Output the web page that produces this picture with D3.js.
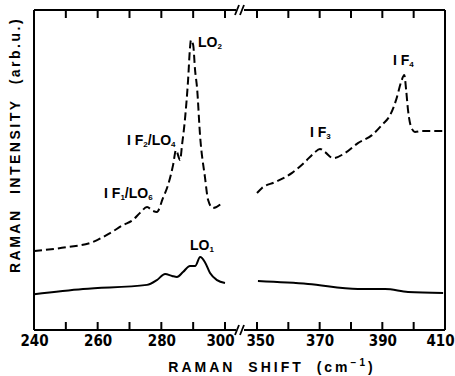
<!DOCTYPE html>
<html>
<head>
<meta charset="utf-8">
<script src="https://cdn.jsdelivr.net/npm/d3@7"></script>
<style>
  body { margin: 0; background: #fff; }
  svg { display: block; }
  .tick text { font-family: "DejaVu Sans Condensed", "DejaVu Sans", sans-serif; font-weight: bold; font-size: 15px; }
  .lbl { font-family: "Liberation Sans", Arial, sans-serif; font-weight: bold; font-size: 14px; }
</style>
</head>
<body>
<div id="chart"></div>
<script>
const WIDTH = 455;
const HEIGHT = 376;

// raman shift ticks, both sides of the axis break
const leftTicks = [240, 250, 260, 270, 280, 290, 300];
const leftLabels = [240, 260, 280, 300];
const rightTicks = [350, 360, 370, 380, 390, 400, 410];
const rightLabels = [350, 370, 390, 410];

// dashed spectrum, 240-300 cm-1
const dashedLeftShift = [240, 250.4, 258.5, 263.9, 268.0, 271.1, 273.3, 275.5, 277.4, 278.6, 280.5, 282.1, 283.7,
  284.6, 285.9, 286.5, 287.4, 288.4, 289.0, 289.3, 290.0, 290.6, 291.2, 292.2, 293.7, 294.7, 296.2, 299.4];
const dashedLeftIntensity = [24.7, 25.9, 27.5, 30.3, 32.8, 34.4, 36.6, 38.4, 37.2, 36.9, 41.2, 45.3, 51.6,
  56.2, 53.1, 57.8, 65.6, 78.1, 88.1, 90.6, 89.1, 81.2, 75.9, 60.3, 47.8, 40.6, 38.1, 40.0];

// dashed spectrum, 350-410 cm-1
const dashedRightShift = [350, 351.6, 355.7, 361.2, 365.3, 368.2, 370.1, 371.7, 374.3, 378.1, 382.2, 386.7,
  389.9, 392.5, 394.4, 396.0, 397.0, 397.6, 398.2, 399.2, 400.4, 402.7, 410];
const dashedRightIntensity = [42.8, 44.4, 46.2, 49.1, 52.5, 55.3, 56.6, 55.6, 53.7, 55.3, 58.4, 60.9,
  64.1, 67.2, 71.9, 77.5, 79.7, 75.0, 68.7, 63.4, 61.9, 62.2, 62.2];

// solid spectrum
const solidLeftShift = [240, 255.4, 275.5, 278.6, 281.2, 283.4, 284.9, 286.8, 289.0, 290.6, 292.2, 293.7, 295.3, 297.5, 300];
const solidLeftIntensity = [11.2, 12.8, 14.1, 15.6, 17.5, 16.9, 16.6, 18.1, 20.0, 20.0, 22.8, 21.2, 17.8, 15.6, 14.7];
const solidRightShift = [350.3, 366.3, 382.2, 390.9, 398.2, 409.4];
const solidRightIntensity = [15.3, 14.4, 12.8, 12.8, 11.9, 11.6];

// peak labels: [main, sub] pairs, anchored at shift / intensity
const peakLabels = [
  {side: "left", shift: 291.5, value: 88.4, parts: [["LO", "2"]]},
  {side: "left", shift: 269.2, value: 57.8, parts: [["I F", "2"], ["/LO", "4"]]},
  {side: "left", shift: 262.0, value: 41.2, parts: [["I F", "1"], ["/LO", "6"]]},
  {side: "left", shift: 289.0, value: 25.0, parts: [["LO", "1"]]},
  {side: "right", shift: 366.9, value: 60.3, parts: [["I F", "3"]]},
  {side: "right", shift: 393.4, value: 82.8, parts: [["I F", "4"]]}
];

const svg = d3.select("#chart").append("svg")
  .attr("width", WIDTH)
  .attr("height", HEIGHT);

const X_LEFT = d3.scaleLinear().domain([240, 300]).range([34, 225]);
const X_RIGHT = d3.scaleLinear().domain([350, 410]).range([257, 445]);
const Y_SCALE = d3.scaleLinear().domain([0, 100]).range([330, 10]);

const FR_TOP = Y_SCALE.range()[1];
const FR_BOTTOM = Y_SCALE.range()[0];
const FR_LEFT = X_LEFT.range()[0];
const FR_RIGHT = X_RIGHT.range()[1];
const TICK_LEN = 8;

// frame
const frame = svg.append("g").attr("stroke", "#000").attr("stroke-width", 2).attr("fill", "none");
frame.append("line").attr("x1", FR_LEFT).attr("x2", FR_RIGHT).attr("y1", FR_TOP).attr("y2", FR_TOP);
frame.append("line").attr("x1", FR_LEFT).attr("x2", FR_RIGHT).attr("y1", FR_BOTTOM).attr("y2", FR_BOTTOM);
frame.append("line").attr("x1", FR_LEFT).attr("x2", FR_LEFT).attr("y1", FR_TOP).attr("y2", FR_BOTTOM);
frame.append("line").attr("x1", FR_RIGHT).attr("x2", FR_RIGHT).attr("y1", FR_TOP).attr("y2", FR_BOTTOM);

// inward ticks on top and bottom edges
function addTicks(scale, ticks) {
  [[FR_BOTTOM, -TICK_LEN], [FR_TOP, TICK_LEN]].forEach(([yy, len]) => {
    svg.append("g").selectAll("line")
      .data(ticks)
      .join("line")
        .attr("x1", d => scale(d)).attr("x2", d => scale(d))
        .attr("y1", yy).attr("y2", yy + len)
        .attr("stroke", "#000")
        .attr("stroke-width", 2);
  });
}
addTicks(X_LEFT, leftTicks);
addTicks(X_RIGHT, rightTicks);

// axis break marks
const breakX = (X_LEFT.range()[1] + X_RIGHT.range()[0]) / 2;
[FR_TOP, FR_BOTTOM].forEach(yy => {
  svg.append("rect").attr("x", breakX - 5).attr("y", yy - 2).attr("width", 8).attr("height", 4).attr("fill", "#fff");
  [-4, 1].forEach(off => {
    svg.append("line")
      .attr("x1", breakX + off - 2).attr("y1", yy + 5)
      .attr("x2", breakX + off + 2).attr("y2", yy - 5)
      .attr("stroke", "#000").attr("stroke-width", 1.8);
  });
});

// tick labels
function addLabels(scale, labels) {
  const g = svg.append("g")
    .attr("transform", `translate(0,${FR_BOTTOM})`)
    .call(d3.axisBottom(scale).tickValues(labels).tickSize(0).tickPadding(5));
  g.select(".domain").remove();
  g.selectAll(".tick line").remove();
  g.selectAll(".tick text").attr("fill", "#000");
  return g;
}

addLabels(X_LEFT, leftLabels)
  .selectAll(".tick text").filter(d => d === 300).attr("dx", -5);
const rightAxis = addLabels(X_RIGHT, rightLabels);
rightAxis.selectAll(".tick text").filter(d => d === 350).attr("dx", 3);
rightAxis.selectAll(".tick text").filter(d => d === 410).attr("dx", -5);

// spectra
function drawLine(scale, xs, ys, dashed) {
  const pts = xs.map((x, i) => [x, ys[i]]);
  const line = d3.line()
    .x(d => scale(d[0]))
    .y(d => Y_SCALE(d[1]))
    .curve(d3.curveMonotoneX);
  svg.append("path")
    .datum(pts)
    .attr("d", line)
    .attr("fill", "none")
    .attr("stroke", "#000")
    .attr("stroke-width", 2)
    .attr("stroke-dasharray", dashed ? "8,4" : null);
}

drawLine(X_LEFT, dashedLeftShift, dashedLeftIntensity, true);
drawLine(X_RIGHT, dashedRightShift, dashedRightIntensity, true);
drawLine(X_LEFT, solidLeftShift, solidLeftIntensity, false);
drawLine(X_RIGHT, solidRightShift, solidRightIntensity, false);

// peak labels
peakLabels.forEach(p => {
  const sc = p.side === "left" ? X_LEFT : X_RIGHT;
  const t = svg.append("text").attr("class", "lbl")
    .attr("x", sc(p.shift)).attr("y", Y_SCALE(p.value));
  p.parts.forEach(([main, sub], i) => {
    t.append("tspan").text(main).attr("dy", i > 0 ? -2 : null);
    t.append("tspan").text(sub).attr("font-size", 8).attr("dy", 2);
  });
});

// axis titles
const xt = svg.append("text").attr("class", "lbl")
  .attr("x", 272).attr("y", 372)
  .attr("text-anchor", "middle")
  .attr("letter-spacing", 3)
  .attr("word-spacing", 6);
xt.append("tspan").text("RAMAN SHIFT (cm");
xt.append("tspan").text("\u22121").attr("font-size", 10).attr("dy", -6);
xt.append("tspan").text(")").attr("dy", 6);

svg.append("text").attr("class", "lbl")
  .attr("transform", "translate(20,145) rotate(-90)")
  .attr("text-anchor", "middle")
  .attr("font-size", 13)
  .attr("letter-spacing", 2.5)
  .attr("word-spacing", 8)
  .text("RAMAN INTENSITY (arb.u.)");
</script>
</body>
</html>
